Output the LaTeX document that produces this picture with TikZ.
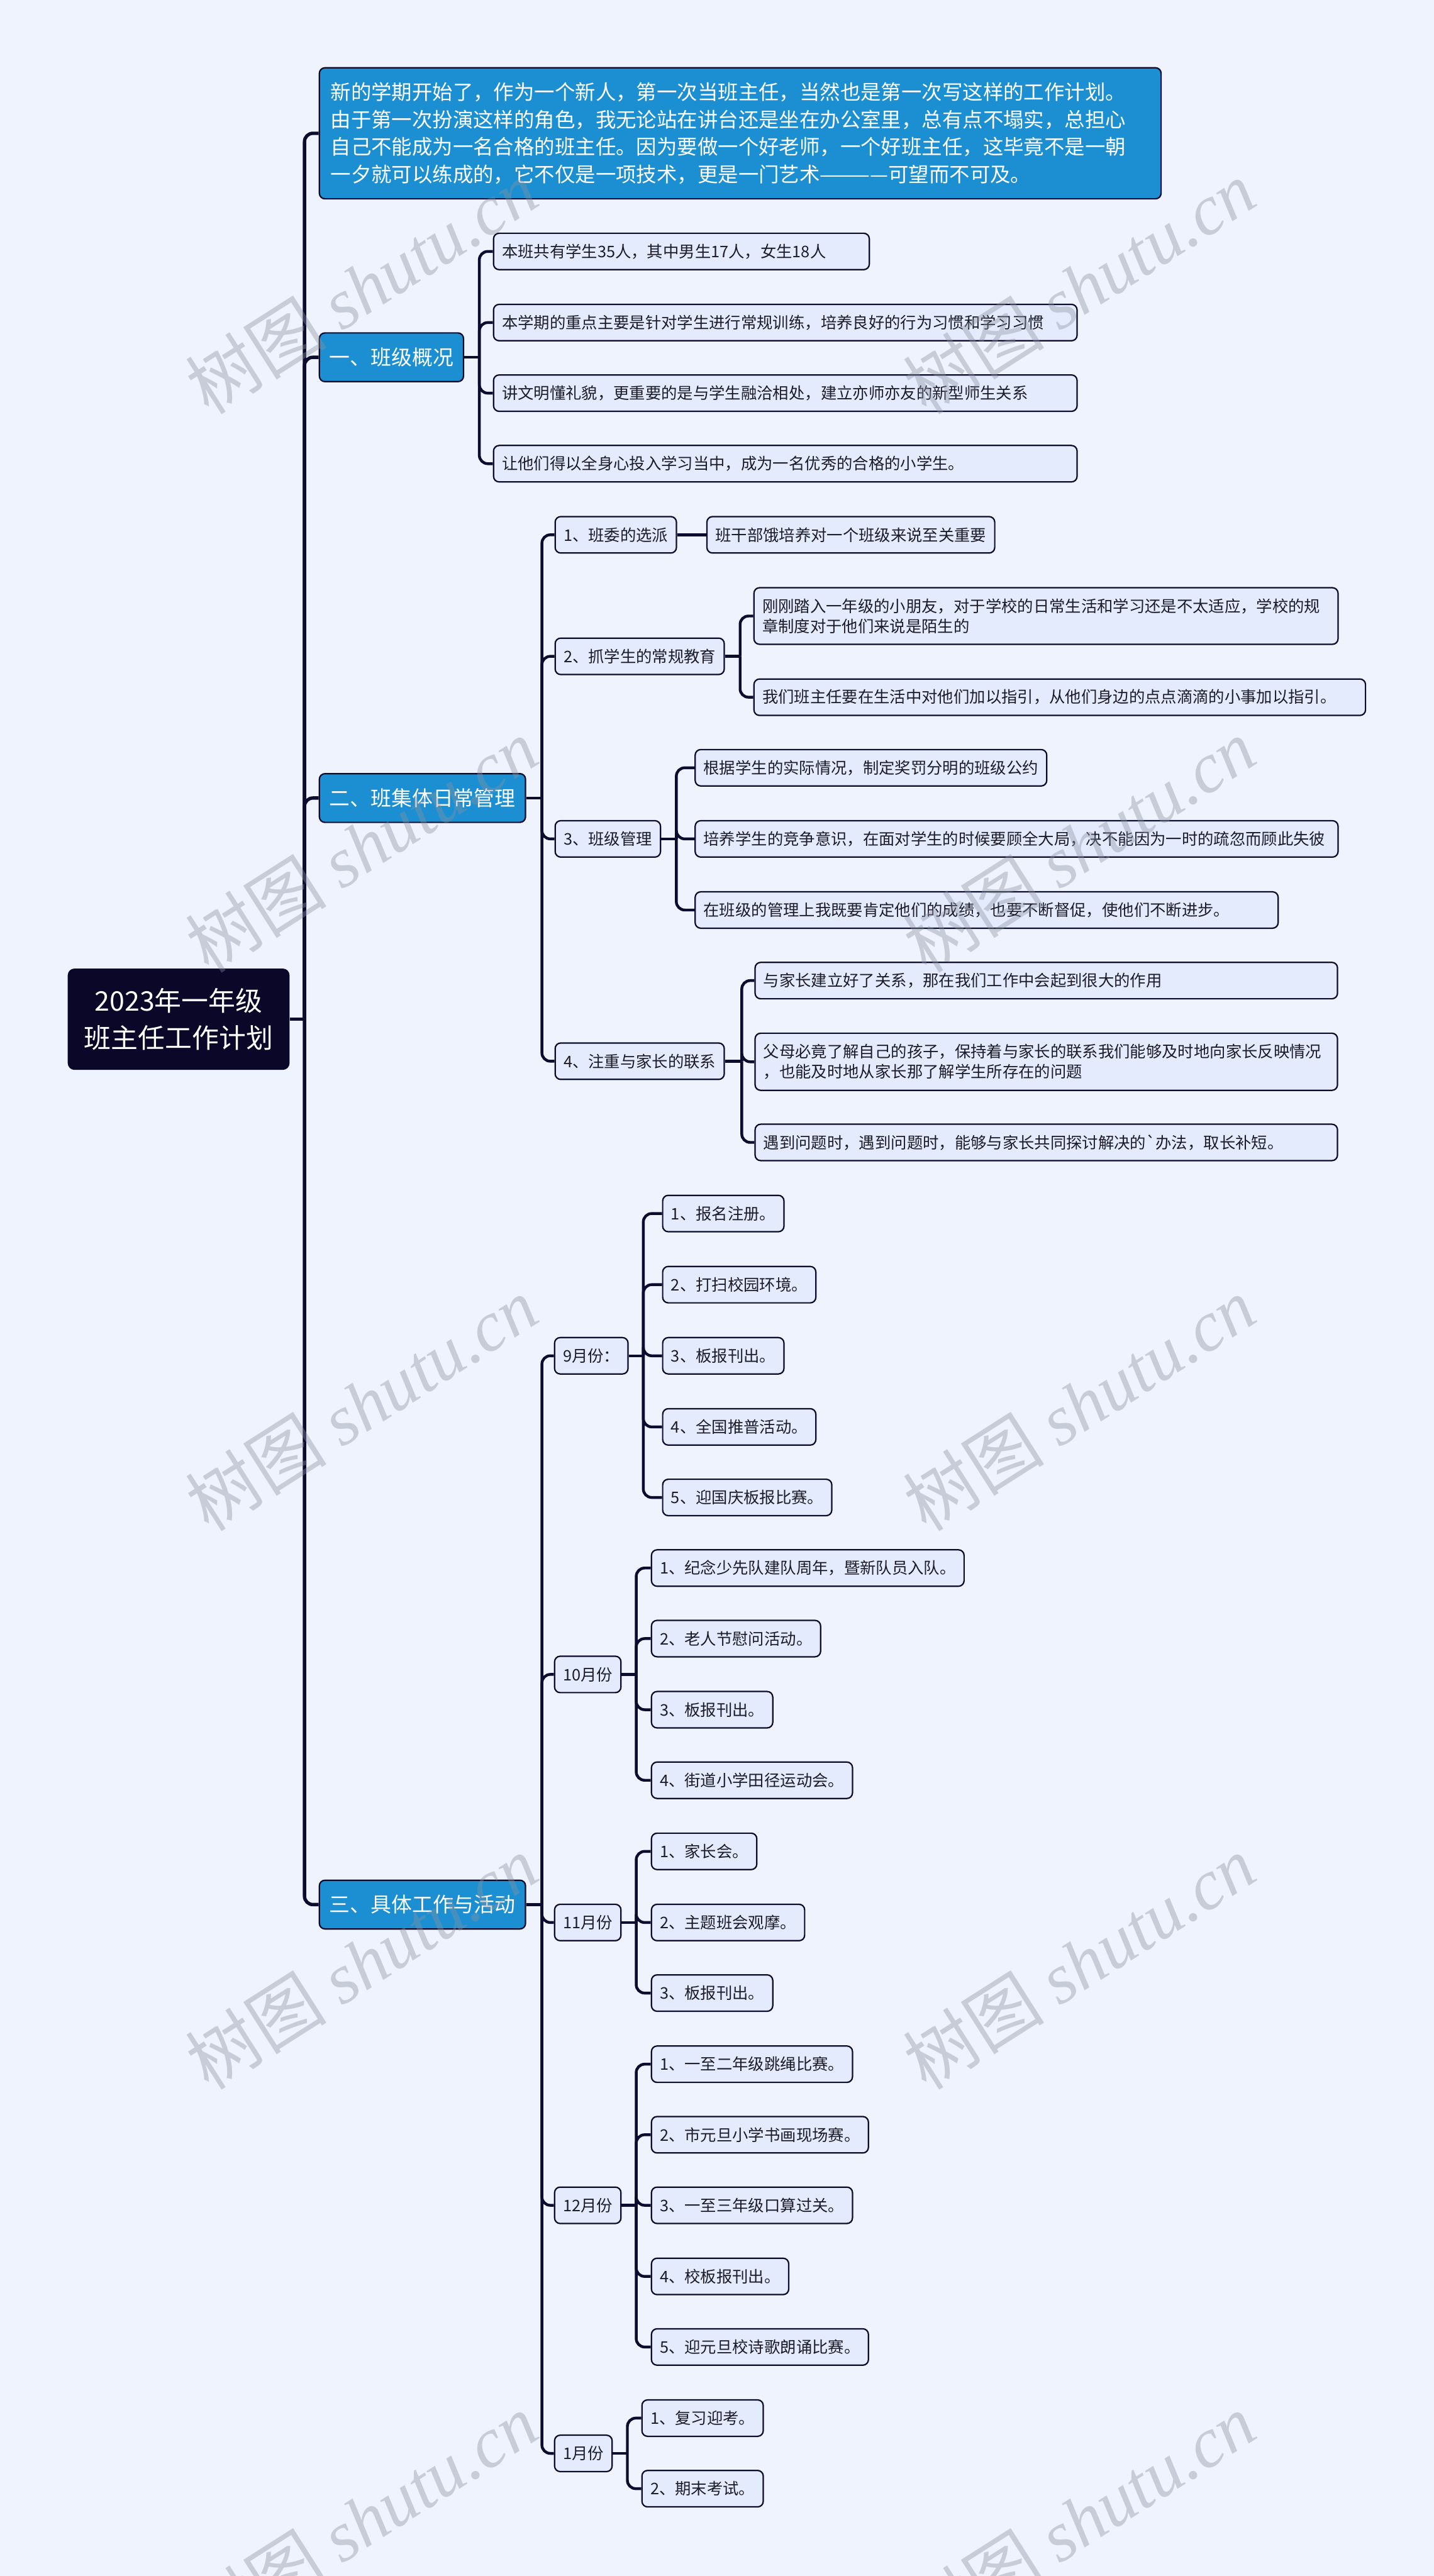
\documentclass[tikz,border=0pt]{standalone}
\usepackage{fontspec}
\setmainfont{Noto Sans CJK SC}
\newfontfamily\wmlatin{Liberation Serif}

\definecolor{bgc}{HTML}{EEF3FD}
\definecolor{leaff}{HTML}{E3EBFC}
\definecolor{linec}{HTML}{0E0C2E}
\definecolor{headc}{HTML}{1B8FD2}
\definecolor{rootc}{HTML}{0A0729}
\definecolor{txtc}{HTML}{1C1C28}
\definecolor{wmc}{HTML}{8C92A0}

\newcommand\leaffont{\fontsize{8.1pt}{10.3pt}\selectfont}
\newcommand\introfont{\fontsize{10.36pt}{13.9pt}\selectfont}
\newcommand\headfont{\fontsize{10.5pt}{13pt}\selectfont}
\newcommand\rootfont{\fontsize{13.7pt}{19.1pt}\selectfont}
\newcommand\wmfont{\fontsize{36pt}{36pt}\selectfont}

\tikzset{
	link/.style={draw=linec, line width=0.05cm, rounded corners=0.15cm},
	box/.style={draw=linec, line width=0.025cm, rounded corners=0.1cm, inner ysep=0pt, anchor=west},
	leaf/.style={box, fill=leaff, text=txtc, font=\leaffont, inner xsep=0.15cm, minimum height=0.65cm, align=left},
	head/.style={box, fill=headc, text=white, font=\headfont, inner xsep=0.18cm, minimum height=0.87cm},
	intro/.style={box, fill=headc, text=white, font=\introfont, inner xsep=0.2cm, minimum height=2.34cm, align=left},
	rootbox/.style={fill=rootc, text=white, font=\rootfont, rounded corners=0.12cm, minimum width=3.96cm, minimum height=1.81cm, align=center},
	wmark/.style={text=wmc, opacity=0.39, font=\wmfont, rotate=32.5}
}

\begin{document}
\begin{tikzpicture}[x=1cm, y=-1cm]
	\fill[bgc] (0,0) rectangle (25.6,46.0);
	\clip (0,0) rectangle (25.6,46.0);

	% root and first level
	\node[rootbox] (root) at (3.19,18.20) {2023年一年级\\班主任工作计划};
	\node[intro, text width=14.63cm] (intro) at (5.69,2.38) {新的学期开始了，作为一个新人，第一次当班主任，当然也是第一次写这样的工作计划。\\由于第一次扮演这样的角色，我无论站在讲台还是坐在办公室里，总有点不塌实，总担心\\自己不能成为一名合格的班主任。因为要做一个好老师，一个好班主任，这毕竟不是一朝\\一夕就可以练成的，它不仅是一项技术，更是一门艺术————可望而不可及。};
	\node[head] (h1) at (5.69,6.38) {一、班级概况};
	\node[head] (h2) at (5.69,14.25) {二、班集体日常管理};
	\node[head] (h3) at (5.69,34.01) {三、具体工作与活动};

	% 一
	\node[leaf, text width=6.41cm] (a1) at (8.80,4.49) {本班共有学生35人，其中男生17人，女生18人};
	\node[leaf, text width=10.12cm] (a2) at (8.80,5.76) {本学期的重点主要是针对学生进行常规训练，培养良好的行为习惯和学习习惯};
	\node[leaf, text width=10.12cm] (a3) at (8.80,7.02) {讲文明懂礼貌，更重要的是与学生融洽相处，建立亦师亦友的新型师生关系};
	\node[leaf, text width=10.12cm] (a4) at (8.80,8.28) {让他们得以全身心投入学习当中，成为一名优秀的合格的小学生。};

	% 二
	\node[leaf] (b1) at (9.90,9.55) {1、班委的选派};
	\node[leaf] (b1a) at (12.61,9.55) {班干部饿培养对一个班级来说至关重要};
	\node[leaf] (b2) at (9.90,11.72) {2、抓学生的常规教育};
	\node[leaf, text width=10.13cm, minimum height=1.01cm] (b2a) at (13.45,11.00) {刚刚踏入一年级的小朋友，对于学校的日常生活和学习还是不太适应，学校的规\\章制度对于他们来说是陌生的};
	\node[leaf, text width=10.62cm] (b2b) at (13.45,12.45) {我们班主任要在生活中对他们加以指引，从他们身边的点点滴滴的小事加以指引。};
	\node[leaf] (b3) at (9.90,14.98) {3、班级管理};
	\node[leaf] (b3a) at (12.40,13.71) {根据学生的实际情况，制定奖罚分明的班级公约};
	\node[leaf, text width=11.18cm] (b3b) at (12.40,14.98) {培养学生的竞争意识，在面对学生的时候要顾全大局，决不能因为一时的疏忽而顾此失彼};
	\node[leaf, text width=10.11cm] (b3c) at (12.40,16.25) {在班级的管理上我既要肯定他们的成绩，也要不断督促，使他们不断进步。};
	\node[leaf] (b4) at (9.90,18.95) {4、注重与家长的联系};
	\node[leaf, text width=10.10cm] (b4a) at (13.47,17.51) {与家长建立好了关系，那在我们工作中会起到很大的作用};
	\node[leaf, text width=10.10cm, minimum height=1.02cm] (b4b) at (13.47,18.96) {父母必竟了解自己的孩子，保持着与家长的联系我们能够及时地向家长反映情况\\，也能及时地从家长那了解学生所存在的问题};
	\node[leaf, text width=10.10cm] (b4c) at (13.47,20.40) {遇到问题时，遇到问题时，能够与家长共同探讨解决的\textasciigrave 办法，取长补短。};

	% 三
	\node[leaf] (m9) at (9.89,24.21) {9月份：};
	\node[leaf] (c1) at (11.82,21.67) {1、报名注册。};
	\node[leaf] (c2) at (11.82,22.94) {2、打扫校园环境。};
	\node[leaf] (c3) at (11.82,24.21) {3、板报刊出。};
	\node[leaf] (c4) at (11.82,25.48) {4、全国推普活动。};
	\node[leaf] (c5) at (11.82,26.74) {5、迎国庆板报比赛。};
	\node[leaf] (m10) at (9.89,29.90) {10月份};
	\node[leaf] (d1) at (11.62,28.00) {1、纪念少先队建队周年，暨新队员入队。};
	\node[leaf] (d2) at (11.62,29.26) {2、老人节慰问活动。};
	\node[leaf] (d3) at (11.62,30.53) {3、板报刊出。};
	\node[leaf] (d4) at (11.62,31.79) {4、街道小学田径运动会。};
	\node[leaf] (m11) at (9.89,34.33) {11月份};
	\node[leaf] (e1) at (11.62,33.06) {1、家长会。};
	\node[leaf] (e2) at (11.62,34.33) {2、主题班会观摩。};
	\node[leaf] (e3) at (11.62,35.59) {3、板报刊出。};
	\node[leaf] (m12) at (9.89,39.38) {12月份};
	\node[leaf] (f1) at (11.62,36.86) {1、一至二年级跳绳比赛。};
	\node[leaf] (f2) at (11.62,38.12) {2、市元旦小学书画现场赛。};
	\node[leaf] (f3) at (11.62,39.38) {3、一至三年级口算过关。};
	\node[leaf] (f4) at (11.62,40.65) {4、校板报刊出。};
	\node[leaf] (f5) at (11.62,41.91) {5、迎元旦校诗歌朗诵比赛。};
	\node[leaf] (m1) at (9.89,43.81) {1月份};
	\node[leaf] (g1) at (11.45,43.18) {1、复习迎考。};
	\node[leaf] (g2) at (11.45,44.44) {2、期末考试。};

	% connectors
	\draw[link, line width=0.06cm] (root.east) -- ++(0.26,0) coordinate (rs);
	\foreach \n in {intro,h1,h2,h3} \draw[link, line width=0.06cm] (rs) |- (\n.west);
	\draw[link] (h1.east) -- ++(0.27,0) coordinate (h1s);
	\foreach \n in {a1,a2,a3,a4} \draw[link] (h1s) |- (\n.west);
	\draw[link] (h2.east) -- ++(0.28,0) coordinate (h2s);
	\foreach \n in {b1,b2,b3,b4} \draw[link] (h2s) |- (\n.west);
	\draw[link] (b1.east) -- (b1a.west);
	\draw[link] (b2.east) -- ++(0.27,0) coordinate (b2s);
	\foreach \n in {b2a,b2b} \draw[link] (b2s) |- (\n.west);
	\draw[link] (b3.east) -- ++(0.27,0) coordinate (b3s);
	\foreach \n in {b3a,b3b,b3c} \draw[link] (b3s) |- (\n.west);
	\draw[link] (b4.east) -- ++(0.30,0) coordinate (b4s);
	\foreach \n in {b4a,b4b,b4c} \draw[link] (b4s) |- (\n.west);
	\draw[link] (h3.east) -- ++(0.28,0) coordinate (h3s);
	\foreach \n in {m9,m10,m11,m12,m1} \draw[link] (h3s) |- (\n.west);
	\draw[link] (m9.east) -- ++(0.26,0) coordinate (m9s);
	\foreach \n in {c1,c2,c3,c4,c5} \draw[link] (m9s) |- (\n.west);
	\draw[link] (m10.east) -- ++(0.26,0) coordinate (m10s);
	\foreach \n in {d1,d2,d3,d4} \draw[link] (m10s) |- (\n.west);
	\draw[link] (m11.east) -- ++(0.26,0) coordinate (m11s);
	\foreach \n in {e1,e2,e3} \draw[link] (m11s) |- (\n.west);
	\draw[link] (m12.east) -- ++(0.26,0) coordinate (m12s);
	\foreach \n in {f1,f2,f3,f4,f5} \draw[link] (m12s) |- (\n.west);
	\draw[link] (m1.east) -- ++(0.26,0) coordinate (m1s);
	\foreach \n in {g1,g2} \draw[link] (m1s) |- (\n.west);

	% watermark
	\foreach \y in {5.13,15.10,25.07,35.04,45.00}
		\foreach \x in {6.45,19.27}
			\node[wmark] at (\x,\y) {树图 {\wmlatin\itshape shutu.cn}};
\end{tikzpicture}
\end{document}
